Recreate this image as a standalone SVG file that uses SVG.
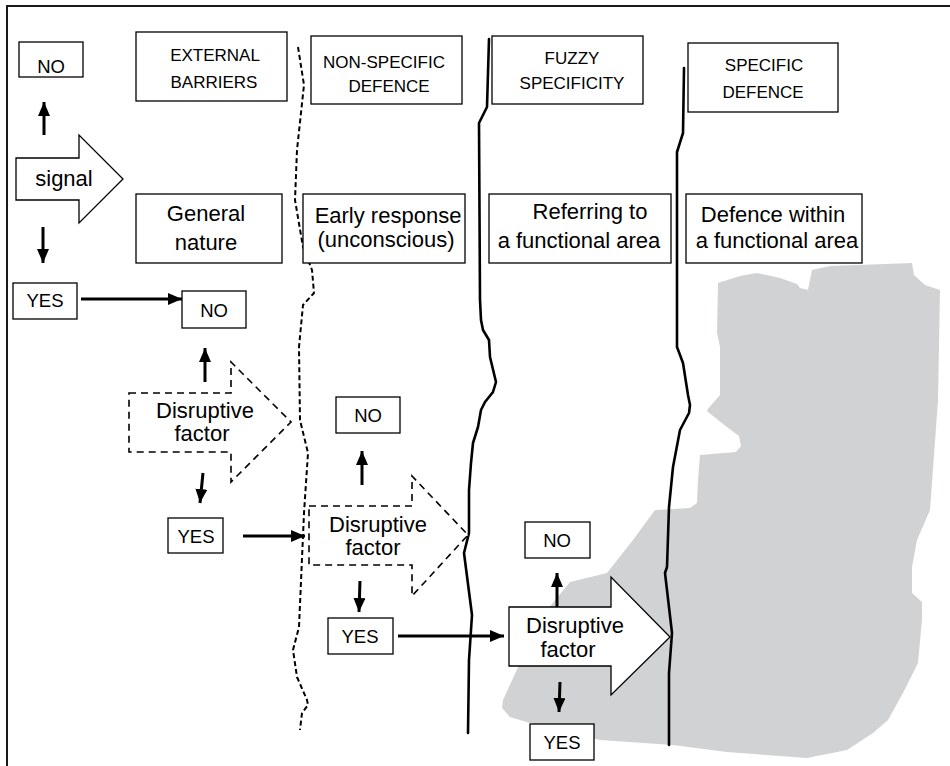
<svg xmlns="http://www.w3.org/2000/svg" width="950" height="766" viewBox="0 0 950 766">
<style>
.box{fill:#fff;stroke:#000;stroke-width:1.3}
.t{font-family:"Liberation Sans",Arial,sans-serif;fill:#000;text-anchor:middle}
.hd{font-size:17px}
.lb{font-size:22px}
.yn{font-size:18.5px}
.arr{stroke:#000;stroke-width:3;fill:none;marker-end:url(#ah)}
.da{fill:#fff;stroke:#000;stroke-width:1.6;stroke-dasharray:7 5}
.sa{fill:#fff;stroke:#000;stroke-width:1.3}
.bnd{fill:none;stroke:#000;stroke-width:2.6;stroke-linejoin:round;stroke-linecap:round}
.bndd{fill:none;stroke:#000;stroke-width:2;stroke-dasharray:5 3;stroke-linejoin:round}
</style>
<defs>
<marker id="ah" markerUnits="userSpaceOnUse" markerWidth="14" markerHeight="12" refX="14" refY="6" orient="auto">
<path d="M0,0 L14,6 L0,12 z" fill="#000"/>
</marker>
</defs>
<rect width="950" height="766" fill="#fff"/>
<g id="frame">
<path d="M7,766 L7,6 L950,6" fill="none" stroke="#1a1a1a" stroke-width="2"/>
</g>
<g id="grey-area">
<path fill="#d1d2d4" d="M718,283 L740,276 L757,273 L780,278 L797,284 L800,288 L808,290 L812,270 L830,266 L912,263 L914,275 L925,285 L940,290 L938,400 L930,510 L927,517 L917,540 L912,567 L912,593 L922,602 L922,620 L918,663 L903,693 L888,720 L873,733 L847,750 L807,758 L727,752 L673,745 L600,740 L530,723 L510,717 L502,708 L503,700 L520,663 L547,610 L570,582 L607,573 L633,540 L655,510 L690,508 L697,503 L698,480 L700,455 L736,452 L741,446 L739,436 L727,427 L708,412 L707,410 L720,395 L720,347 L717,333 Z"/>
</g>
<g id="boundaries">
<polyline class="bndd" points="298,47 304,85 297,150 295,200 303,247 312,270 314,293 303,305 299,347 300,420 308,453 304,513 299,627 293,650 297,677 307,700 308,705 302,713 300,730"/>
<polyline class="bnd" points="489,39 487,107 479,123 480,300 481,320 483,330 489,340 490,357 496,382 493,392 485,402 481,410 478,427 473,443 471,463 469,490 469,533 464,553 472,615 469,660 468,733"/>
<polyline class="bnd" points="684,68 683,133 677,152 677,347 683,363 688,395 690,405 689,413 680,430 673,467 669,507 667,567 665,573 672,633 669,673 669,745"/>
</g>
<g id="connectors">
<line class="arr" x1="44" y1="135" x2="44" y2="102"/>
<line class="arr" x1="43" y1="227" x2="43" y2="263"/>
<line class="arr" x1="81" y1="299" x2="182" y2="299"/>
<line class="arr" x1="205" y1="382" x2="205" y2="348"/>
<line class="arr" x1="203" y1="473" x2="200" y2="503"/>
<line class="arr" x1="243" y1="536" x2="305" y2="536"/>
<line class="arr" x1="362" y1="485" x2="362" y2="451"/>
<line class="arr" x1="360" y1="581" x2="359" y2="612"/>
<line class="arr" x1="398" y1="636" x2="504" y2="636"/>
<line class="arr" x1="557" y1="607" x2="557" y2="573"/>
<line class="arr" x1="560" y1="682" x2="559" y2="712"/>
</g>
<g id="no-top">
<rect class="box" x="19" y="42" width="64" height="35"/>
<text class="t yn" x="51" y="73">NO</text>
</g>
<g id="signal">
<polygon class="sa" points="16,158 79,158 79,135 123,179 79,223 79,200 16,200"/>
<text class="t lb" x="64" y="186">signal</text>
</g>
<g id="yes-1">
<rect class="box" x="13" y="283" width="64" height="36"/>
<text class="t yn" x="45" y="307">YES</text>
</g>
<g id="external-barriers">
<rect class="box" x="136" y="32" width="151" height="69"/>
<text class="t hd" x="215" y="61">EXTERNAL</text>
<text class="t hd" x="214" y="88">BARRIERS</text>
</g>
<g id="general-nature">
<rect class="box" x="136" y="194" width="146" height="69"/>
<text class="t lb" x="206" y="221">General</text>
<text class="t lb" x="206" y="250">nature</text>
</g>
<g id="non-specific-defence">
<rect class="box" x="311" y="36" width="151" height="68"/>
<text class="t hd" x="384" y="68">NON-SPECIFIC</text>
<text class="t hd" x="389" y="92">DEFENCE</text>
</g>
<g id="early-response">
<rect class="box" x="303" y="194" width="162" height="69"/>
<text class="t lb" x="388" y="223">Early response</text>
<text class="t lb" x="386" y="247">(unconscious)</text>
</g>
<g id="fuzzy-specificity">
<rect class="box" x="492" y="36" width="151" height="68"/>
<text class="t hd" x="572" y="64">FUZZY</text>
<text class="t hd" x="572" y="89">SPECIFICITY</text>
</g>
<g id="referring">
<rect class="box" x="489" y="194" width="182" height="69"/>
<text class="t lb" x="590" y="219">Referring to</text>
<text class="t lb" x="579" y="248">a functional area</text>
</g>
<g id="specific-defence">
<rect class="box" x="688" y="43" width="150" height="69"/>
<text class="t hd" x="764" y="71">SPECIFIC</text>
<text class="t hd" x="763" y="98">DEFENCE</text>
</g>
<g id="defence-within">
<rect class="box" x="686" y="194" width="176" height="69"/>
<text class="t lb" x="773" y="222">Defence within</text>
<text class="t lb" x="777" y="248">a functional area</text>
</g>
<g id="no-2">
<rect class="box" x="182" y="291" width="64" height="37"/>
<text class="t yn" x="214" y="317">NO</text>
</g>
<g id="disruptive-1">
<polygon class="da" points="129,393 231,393 231,362 291,422 231,482 231,452 129,452"/>
<text class="t lb" x="205" y="418">Disruptive</text>
<text class="t lb" x="202" y="441">factor</text>
</g>
<g id="yes-2">
<rect class="box" x="168" y="518" width="55" height="35"/>
<text class="t yn" x="196" y="543">YES</text>
</g>
<g id="no-3">
<rect class="box" x="336" y="397" width="64" height="36"/>
<text class="t yn" x="368" y="422">NO</text>
</g>
<g id="disruptive-2">
<polygon class="da" points="309,506 412,506 412,476 468,535 412,596 412,565 309,565"/>
<text class="t lb" x="378" y="532">Disruptive</text>
<text class="t lb" x="373" y="555">factor</text>
</g>
<g id="yes-3">
<rect class="box" x="328" y="618" width="65" height="36"/>
<text class="t yn" x="360" y="643">YES</text>
</g>
<g id="no-4">
<rect class="box" x="525" y="522" width="65" height="36"/>
<text class="t yn" x="557" y="547">NO</text>
</g>
<g id="disruptive-3">
<polygon class="sa" points="509,607 611,607 611,577 670,637 611,695 611,666 509,666"/>
<text class="t lb" x="575" y="633">Disruptive</text>
<text class="t lb" x="568" y="657">factor</text>
</g>
<g id="yes-4">
<rect class="box" x="530" y="724" width="64" height="36"/>
<text class="t yn" x="562" y="749">YES</text>
</g>
</svg>
